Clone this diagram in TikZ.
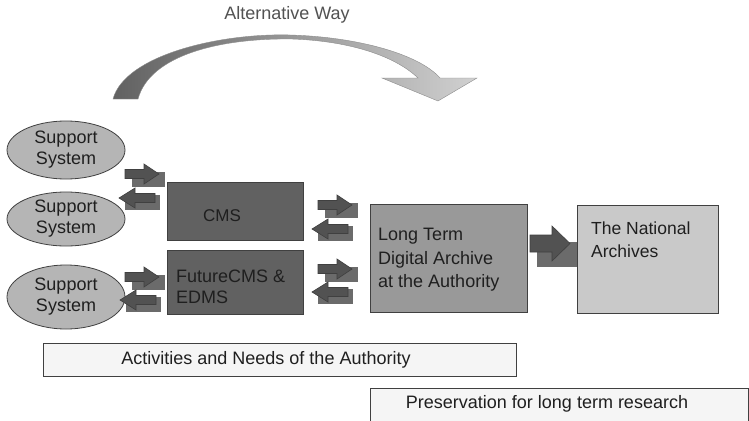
\documentclass[tikz,border=0pt]{standalone}
\usepackage{fontspec}
\setmainfont{Liberation Sans}
\usetikzlibrary{shapes.geometric}
\definecolor{ellfill}{gray}{0.71}
\definecolor{darkbox}{gray}{0.38}
\definecolor{midbox}{gray}{0.60}
\definecolor{lightbox}{gray}{0.79}
\definecolor{paperbox}{gray}{0.96}
\definecolor{arrbody}{gray}{0.32}
\definecolor{arrshade}{gray}{0.42}
\definecolor{inkline}{gray}{0.25}
\definecolor{txt}{gray}{0.12}
\begin{document}
\begin{tikzpicture}[x=1pt,y=-1pt,
  support/.style={ellipse, draw=inkline, line width=0.8pt, fill=ellfill,
    minimum width=118pt, minimum height=58pt, inner sep=0pt, align=center,
    text=txt, font=\fontsize{18}{21}\selectfont},
  boxshape/.style={draw=inkline, line width=0.7pt, anchor=north west, inner sep=0pt},
  boxtext/.style={anchor=north west, align=left, inner sep=0pt, text=txt,
    font=\fontsize{18}{23.5}\selectfont},
  bandbox/.style={draw=inkline, line width=0.7pt, fill=paperbox, anchor=north west,
    inner sep=0pt},
  bandtext/.style={text=txt, font=\fontsize{18}{20}\selectfont},
  arrbodystyle/.style={fill=arrbody, draw=inkline, line width=0.6pt, line join=miter},
  arrshadestyle/.style={fill=arrshade},
  % small block arrow pointing right, origin at the tail centre
  rarrow/.pic={
    \fill[arrshadestyle] (7,-2) rectangle (40,13);
    \filldraw[arrbodystyle] (0,-4.5) -- (19,-4.5) -- (19,-10) -- (34,0) -- (19,10)
      -- (19,4.5) -- (0,4.5) -- cycle;
  },
  % small block arrow pointing left, origin at the tip
  larrow/.pic={
    \fill[arrshadestyle] (6,-3) rectangle (41,12);
    \filldraw[arrbodystyle] (0,0) -- (16,-10) -- (16,-4.5) -- (36,-4.5) -- (36,4.5)
      -- (16,4.5) -- (16,10) -- cycle;
  },
  % larger block arrow towards the national archives
  bigarrow/.pic={
    \fill[arrshadestyle] (7,-1.5) rectangle (47,23.5);
    \filldraw[arrbodystyle] (0,-8.5) -- (22,-8.5) -- (22,-17.5) -- (40,0) -- (22,17.5)
      -- (22,8.5) -- (0,8.5) -- cycle;
  }
]
\useasboundingbox (0,0) rectangle (749,420);
\fill[white] (0,0) rectangle (749,420);

% curved arrow over the top
\shade[left color=black!62, right color=black!18, draw=black!45, line width=0.4pt]
  (113,99) .. controls (125,55) and (220,33) .. (290,35)
  .. controls (360,37) and (420,55) .. (440,78)
  -- (477,78) -- (438,101) -- (382,78) -- (418,78)
  .. controls (395,56) and (350,41) .. (292,39)
  .. controls (220,38) and (150,55) .. (138,99) -- cycle;
\node[text=black!68, font=\fontsize{18}{20}\selectfont] (alt) at (287,15) {Alternative Way};

% support systems
\node[support] (s1) at (66,150) {Support\\System};
\node[support, minimum height=54pt] (s2) at (66,219) {Support\\System};
\node[support, minimum height=64pt] (s3) at (66,297) {Support\\System};

% content management boxes
\node[boxshape, fill=darkbox, minimum width=136pt, minimum height=58pt] (cms) at (167,182) {};
\node[text=txt, font=\fontsize{17}{19}\selectfont] (cmst) at (222,216) {CMS};
\node[boxshape, fill=darkbox, minimum width=136pt, minimum height=64pt] (fcms) at (167,250) {};
\node[boxtext, font=\fontsize{18}{20.5}\selectfont] (fcmst) at (176,270) {FutureCMS \&\\EDMS};

% archives
\node[boxshape, fill=midbox, minimum width=157pt, minimum height=108pt] (lta) at (370,204) {};
\node[boxtext] (ltat) at (378,228) {Long Term\\Digital Archive\\at the Authority};
\node[boxshape, fill=lightbox, minimum width=141pt, minimum height=108pt] (tna) at (577,205) {};
\node[boxtext, font=\fontsize{17.5}{22.5}\selectfont] (tnat) at (591,222) {The National\\Archives};

% exchange arrows
\pic at (125,174) {rarrow};
\pic at (119,198) {larrow};
\pic at (125,277) {rarrow};
\pic at (120,300) {larrow};
\pic at (318,205) {rarrow};
\pic at (312,229) {larrow};
\pic at (318,269) {rarrow};
\pic at (312,292) {larrow};
\pic at (530,243.5) {bigarrow};

% bottom bands
\node[bandbox, minimum width=473pt, minimum height=33pt] (needs) at (43,343) {};
\node[bandtext] (needst) at (266,359.5) {Activities and Needs of the Authority};
\node[bandbox, minimum width=378pt, minimum height=33pt] (pres) at (370,388) {};
\node[bandtext] (prest) at (547,404) {Preservation for long term research};
\end{tikzpicture}
\end{document}
